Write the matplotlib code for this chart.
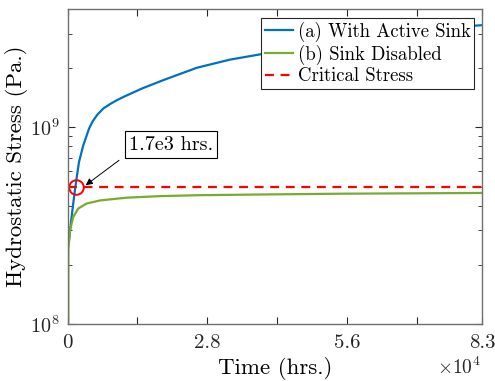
import matplotlib
matplotlib.use("Agg")
import matplotlib.pyplot as plt

plt.rcParams["font.family"] = "serif"
plt.rcParams["font.serif"] = ["cmr10", "DejaVu Serif"]
plt.rcParams["mathtext.fontset"] = "cm"
plt.rcParams["axes.unicode_minus"] = False

# values (time in hrs, stress in Pa)
t_active = [150, 300, 700, 1100, 1440, 1900, 2300, 3160, 4300, 5000, 5970, 7200,
            8650, 10000, 11500, 15000, 19200, 25900, 32500, 38500, 45000, 50000,
            60000, 70000, 81600, 83000]
s_active = [2.6e8, 2.67e8, 3.3e8, 4.02e8, 4.7e8, 5.7e8, 6.67e8, 8.11e8, 9.84e8,
            1.07e9, 1.16e9, 1.25e9, 1.32e9, 1.38e9, 1.44e9, 1.58e9, 1.74e9, 2.01e9,
            2.21e9, 2.35e9, 2.5e9, 2.63e9, 2.86e9, 3.07e9, 3.29e9, 3.31e9]

t_disabled = [150, 160, 500, 1160, 2160, 3840, 6500, 11850, 18500, 26500, 40000,
              55000, 70000, 83000]
s_disabled = [1.0e8, 2.38e8, 3.0e8, 3.51e8, 3.87e8, 4.1e8, 4.25e8, 4.39e8, 4.47e8,
              4.52e8, 4.56e8, 4.6e8, 4.62e8, 4.64e8]

critical = 5.0e8
cross_t = 1700
x_ticks = [0, 14000, 28000, 42000, 56000, 70000, 83000]
x_labels = ["0", "", "2.8", "", "5.6", "", "8.3"]

fig = plt.figure(figsize=(4.95, 3.81), dpi=100)
ax = fig.add_axes([0.1364, 0.1496, 0.8374, 0.8268])

ax.plot(t_active, s_active, color="#0072BD", lw=1.6, label="(a) With Active Sink")
ax.plot(t_disabled, s_disabled, color="#77AC30", lw=1.6, label="(b) Sink Disabled")
ax.plot([0, 83000], [critical, critical], color="#FF0000", lw=1.6, ls=(0, (4, 3)),
        label="Critical Stress")
ax.plot([cross_t], [critical], "o", mfc="none", mec="#FF0000", ms=10.5, mew=1.4)

# annotation: text box + arrow to the crossing point
ax.text(20720, 8.17e8, "1.7e3 hrs.", fontsize=14.5, ha="center", va="center",
        bbox=dict(boxstyle="square,pad=0.22", fc="white", ec="black", lw=0.8))
ax.annotate("", xy=(3640, 5.08e8), xytext=(10310, 6.8e8),
            arrowprops=dict(arrowstyle="-|>", color="black", lw=0.7,
                            shrinkA=0, shrinkB=0, mutation_scale=10))

ax.set_yscale("log")
ax.set_xlim(0, 83000)
ax.set_ylim(1e8, 4.0e9)
ax.set_yticks([1e8, 1e9])
ax.set_yticklabels([r"$10^8$", r"$10^9$"])
ax.set_xticks(x_ticks)
ax.set_xticklabels(x_labels)
ax.tick_params(which="both", direction="in", top=True, right=True, labelsize=15,
               color="#262626", labelcolor="#262626")
ax.tick_params(axis="y", labelsize=14.5)
ax.tick_params(axis="x", pad=7)
ax.tick_params(axis="y", pad=6)
ax.tick_params(which="major", length=5)
ax.tick_params(which="minor", length=3)
for sp in ax.spines.values():
    sp.set_color("#707070")
    sp.set_linewidth(1.0)

ax.set_xlabel("Time (hrs.)", fontsize=16.5, labelpad=4)
ax.set_ylabel("Hydrostatic Stress (Pa.)", fontsize=16.5, labelpad=1)
ax.text(0.997, -0.105, r"$\times10^4$", transform=ax.transAxes, ha="right", va="top",
        fontsize=14, color="#262626")

leg = ax.legend(loc="upper right", fontsize=13.5, frameon=True, fancybox=False,
                borderpad=0.2, labelspacing=0.15, handlelength=1.5, handletextpad=0.25,
                borderaxespad=0.0, bbox_to_anchor=(0.981, 0.972))
leg.get_frame().set_edgecolor("#262626")
leg.get_frame().set_linewidth(0.8)
leg.get_frame().set_alpha(1)

fig.savefig("out.png", dpi=100)
